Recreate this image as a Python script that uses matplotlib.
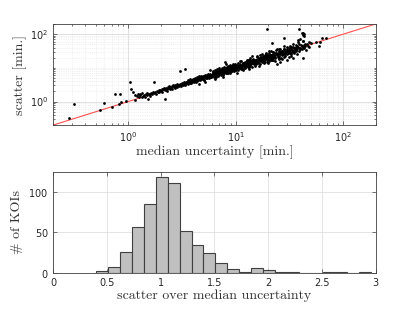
import numpy as np
import matplotlib
matplotlib.use("Agg")
import matplotlib.pyplot as plt
from matplotlib.ticker import LogLocator, FixedLocator, NullFormatter

# median timing uncertainty per KOI [min.]
median_unc = [
    0.28, 0.31, 0.55, 0.60, 0.71, 0.76, 0.82, 0.84, 0.85, 0.95,
    1.03, 1.06, 1.10, 1.15, 1.16, 1.20, 1.22, 1.25, 1.28, 1.30, 1.33, 1.35, 1.38, 1.40, 1.42, 1.45, 1.48,
    1.50, 1.54, 1.55, 1.58, 1.60, 1.63, 1.66, 1.70, 1.74, 1.75, 1.78, 1.82, 1.85, 1.88, 1.92, 1.95, 1.98,
    2.02, 2.05, 2.08, 2.12, 2.15, 2.20, 2.22, 2.25, 2.28, 2.30, 2.34, 2.38, 2.40, 2.43, 2.47, 2.50, 2.55,
    2.58, 2.62, 2.65, 2.70, 2.74, 2.78, 2.82, 2.86, 2.90, 2.95, 3.00, 3.06, 3.05, 3.10, 3.15, 3.20, 3.25,
    3.30, 3.36, 3.35, 3.40, 3.45, 3.50,
    3.55, 3.60, 3.62, 3.65, 3.70, 3.72, 3.75, 3.80, 3.83, 3.86, 3.90, 3.93, 3.96, 4.00, 4.04, 4.08, 4.12,
    4.15, 4.20, 4.24, 4.28, 4.32, 4.36, 4.40, 4.45, 4.50, 4.55, 4.60, 4.62, 4.66, 4.70, 4.75, 4.80, 4.85,
    4.90, 4.95, 5.00, 5.05, 5.10, 5.15, 5.20, 5.25, 5.30, 5.35, 5.40, 5.45, 5.50, 5.55, 5.60, 5.65, 5.70,
    5.75, 5.80, 5.85, 5.90, 5.95,
    6.00, 6.05, 6.10, 6.15, 6.20, 6.25, 6.30, 6.35, 6.40, 6.45, 6.50, 6.55, 6.60, 6.65, 6.70, 6.75, 6.80,
    6.85, 6.90, 6.95, 7.00, 7.05, 7.10, 7.15, 7.20, 7.25, 7.30, 7.35, 7.40, 7.45, 7.50, 7.55, 7.60, 7.65,
    7.70, 7.75, 7.80, 7.85, 7.90, 7.95, 8.00, 8.05, 8.10, 8.15, 8.20, 8.25, 8.30, 8.35, 8.40, 8.45, 8.50,
    8.55, 8.60, 8.65, 8.70, 8.75, 8.80, 8.85, 8.90, 8.95, 9.00, 9.05, 9.10, 9.15, 9.20, 9.25, 9.30, 9.35,
    9.40, 9.45, 9.50, 9.55, 9.60, 9.65, 9.70, 9.75, 9.80, 9.85, 9.90, 9.95,
    10.0, 10.1, 10.2, 10.3, 10.4, 10.5, 10.6, 10.7, 10.8, 10.9, 11.0, 11.1, 11.2, 11.3, 11.4, 11.5, 11.6,
    11.7, 11.8, 11.9, 12.0, 12.1, 12.2, 12.3, 12.4, 12.5, 12.6, 12.7, 12.8, 12.9, 13.0, 13.1, 13.2, 13.3,
    13.4, 13.5, 13.6, 13.7, 13.8, 13.9, 14.0, 14.1, 14.2, 14.3, 14.4, 14.5, 14.6, 14.7, 14.8, 14.9,
    15.0, 15.15, 15.3, 15.45, 15.6, 15.75, 15.9, 16.05, 16.2, 16.35, 16.5, 16.65, 16.8, 16.95, 17.1,
    17.25, 17.4, 17.55, 17.7, 17.85, 18.0, 18.15, 18.3, 18.45, 18.6,
    18.75, 18.9, 19.05, 19.2, 19.35, 19.5, 19.65, 19.8, 19.95, 20.1, 20.25, 20.4, 20.55, 20.7, 20.85,
    21.0, 21.15, 21.3, 21.45, 21.6, 21.75, 21.9, 22.05, 22.2, 22.35,
    8.1, 8.6, 9.1, 9.6, 10.15, 10.65, 11.15, 11.65, 12.15, 12.65, 13.15, 13.65, 14.15, 14.65, 15.2,
    15.7, 16.2, 16.7, 17.2, 17.7, 18.2, 18.7, 19.2, 19.7, 20.2,
    20.7, 21.2, 21.7, 22.2, 22.7, 23.2, 23.7, 24.2, 24.7, 25.2, 25.7, 26.2, 26.7, 27.2, 27.7, 28.2,
    28.7, 29.2, 29.7, 30.2, 30.7, 31.2, 31.7, 32.2, 32.7,
    22.5, 23.0, 23.5, 24.0, 24.5, 25.0, 25.5, 26.0, 26.5, 27.0, 27.5, 28.0, 28.5, 29.0, 29.5, 30.0,
    30.5, 31.0, 31.5, 32.0, 32.5, 33.0, 33.5, 34.0, 34.5,
    35.0, 35.5, 36.0, 36.5, 37.0, 37.5, 38.0, 38.5, 39.0, 39.5, 40.0, 40.5, 41.0, 41.5, 42.0, 42.5,
    43.0, 43.5, 44.0, 44.5, 45.0, 46.0, 47.0, 48.0, 50.0,
    12.3, 13.3, 14.3, 15.3, 16.3, 17.3, 18.3, 19.3, 20.3, 21.3, 22.3, 23.3, 24.3, 25.3, 26.3, 27.3,
    28.3, 29.3, 30.3, 31.3, 32.3, 33.3, 34.3, 35.3, 36.3,
    4.1, 4.35, 4.6, 4.85, 5.1, 5.35, 5.6, 5.85, 6.1, 6.35, 6.6, 6.85, 7.1, 7.35, 7.6, 7.85, 8.1, 8.35,
    8.6, 8.85,
    5.2, 5.8, 6.4, 7.0, 7.6, 8.2, 8.8, 9.4, 10.2, 11.0, 11.8, 12.6, 13.4, 14.2, 15.0, 15.8, 16.6,
    17.4, 18.2, 19.0, 19.8, 20.6, 21.4, 22.2, 23.0, 24.0, 25.0, 26.0, 27.0, 28.0, 29.0, 30.0, 31.0,
    32.0, 33.0, 34.0, 35.0, 36.0, 37.0, 38.0,
    19.5, 21.6, 28.2, 39.0, 41.0, 42.0, 42.5, 43.0, 43.5, 42.0, 34.0, 42.0, 55.7, 61.0, 60.0, 63.5,
    69.0, 48.0, 24.0, 30.0, 26.0, 38.0, 40.0, 33.0,
]

# measured transit-time scatter per KOI [min.]
scatter = [
    0.33, 0.87, 0.57, 0.90, 0.68, 1.69, 0.84, 1.66, 1.00, 1.05,
    3.8, 2.3, 1.98, 1.12, 1.55, 1.45, 1.70, 1.38, 1.52, 1.62, 1.40, 1.75, 1.48, 1.58, 1.36, 1.66, 1.55,
    1.80, 1.18, 1.62, 1.72, 1.50, 1.85, 1.68, 1.95, 3.76, 1.78, 1.90, 1.72, 2.05, 1.95, 2.15, 1.88, 2.25,
    2.10, 2.40, 1.95, 2.30, 2.55, 1.20, 2.20, 2.60, 2.35, 2.05, 2.70, 2.45, 2.90, 2.30, 2.65, 2.50, 2.85,
    2.35, 3.05, 2.75, 2.60, 3.00, 2.80, 3.30, 2.70, 3.10, 2.95, 3.40, 8.1, 3.20, 2.90, 3.50, 3.25, 3.05,
    3.70, 9.1, 3.40, 3.15, 3.90, 3.55,
    3.90, 4.40, 3.30, 4.10, 3.80, 4.70, 3.60, 4.20, 4.00, 3.50, 4.50, 4.10, 3.85, 4.80, 4.30, 3.70, 4.60,
    4.20, 5.10, 4.40, 3.90, 4.80, 4.50, 5.40, 4.30, 4.90, 4.60, 3.30, 5.20, 4.80, 4.30, 5.60, 5.00, 4.60,
    5.40, 5.90, 5.10, 4.50, 5.60, 5.30, 6.20, 4.90, 5.70, 5.40, 6.00, 5.10, 5.80, 6.50, 5.50, 5.00, 6.10,
    5.80, 6.60, 5.40, 6.30, 5.90,
    6.3, 5.6, 7.2, 6.0, 7.7, 5.5, 6.9, 6.5, 8.6, 6.1, 7.5, 5.4, 7.1, 8.0, 6.5, 9.4, 6.8,
    6.2, 7.7, 8.9, 7.3, 6.4, 8.2, 7.0, 8.8, 6.2, 7.8, 7.5, 9.6, 7.0, 8.4, 6.1, 8.1, 9.1,
    7.5, 10.5, 7.8, 7.0, 15.0, 8.8, 10.0, 7.4, 9.5, 8.0, 10.2, 7.1, 9.1, 8.6, 11.0, 8.0, 9.8,
    7.0, 9.3, 10.5, 8.4, 12.0, 8.8, 8.0, 10.0, 11.2, 9.4, 8.3, 10.6, 9.0, 11.3, 8.0, 10.2, 9.6,
    12.4, 9.0, 10.9, 7.8, 10.4, 11.6, 9.4, 13.4, 9.8, 8.9, 11.1, 12.4,
    10.5, 8.9, 12.4, 10.0, 11.6, 8.4, 13.8, 10.8, 10.0, 12.6, 11.9, 9.4, 16.2, 11.2, 12.5, 10.4, 13.9,
    12.1, 9.0, 13.6, 11.4, 15.2, 12.9, 10.7, 12.4, 13.1, 11.1, 15.5, 12.4, 14.4, 10.4, 17.0, 13.3, 12.4,
    15.5, 14.6, 11.6, 19.9, 13.7, 15.3, 12.6, 16.9, 14.6, 10.9, 16.4, 13.8, 18.4, 15.6, 12.9, 14.9,
    15.2, 14.1, 17.7, 16.7, 13.3, 22.8, 15.7, 17.7, 14.6, 19.6, 17.0, 12.7, 19.2, 16.1, 21.5,
    18.3, 15.1, 17.6, 18.6, 15.7, 22.0, 17.6, 20.5, 14.8, 24.2,
    21.4, 18.0, 24.0, 20.4, 16.8, 19.5, 20.6, 17.4, 24.3, 19.5, 22.7, 16.3, 26.7, 20.9, 19.4,
    24.4, 22.8, 18.1, 31.1, 21.4, 23.9, 19.7, 26.5, 22.9, 17.0,
    7.7, 10.8, 9.6, 8.4, 10.2, 11.2, 9.8, 14.2, 11.8, 14.2, 10.5, 17.7, 14.3, 13.6, 17.6,
    17.0, 13.8, 24.2, 17.0, 19.5, 16.4, 22.4, 19.8, 15.0, 23.0,
    20.1, 23.7, 17.4, 28.9, 22.9, 21.6, 27.5, 26.1, 21.0, 36.5, 25.4, 28.8, 24.0, 32.6, 28.5, 21.4,
    32.7, 27.7, 37.4, 32.0, 26.7, 31.2, 33.3, 28.3, 39.9,
    24.3, 19.6, 34.1, 23.8, 27.0, 22.5, 30.6, 26.8, 20.1, 30.8, 26.1, 35.3, 30.2, 25.2, 29.5, 31.5,
    26.8, 37.8, 30.6, 35.8, 26.0, 42.9, 33.8, 31.6, 40.0,
    30.5, 35.5, 37.8, 32.1, 45.1, 36.4, 42.6, 30.8, 50.7, 39.9, 37.2, 47.0, 44.3, 35.3, 60.9, 42.1,
    47.3, 39.2, 52.8, 45.8, 34.2, 52.4, 44.7, 60.5, 53.0,
    9.8, 17.3, 14.4, 14.2, 18.9, 18.7, 15.6, 28.0, 20.1, 23.4, 20.1, 28.0, 25.0, 19.2, 30.0, 25.9,
    35.7, 31.1, 26.4, 31.3, 33.9, 29.3, 41.8, 34.2, 40.7,
    4.5, 4.0, 5.7, 4.9, 4.4, 6.3, 5.8, 5.5, 8.1, 6.2, 7.4, 5.8, 7.6, 8.7, 7.3, 8.0, 7.2, 10.6,
    9.0, 8.1,
    3.7, 8.7, 4.8, 9.8, 5.2, 12.7, 6.9, 12.7, 7.1, 16.5, 8.9, 17.6, 9.1, 22.0, 11.7, 21.3, 11.6,
    26.1, 13.7, 26.6, 13.5, 31.9, 16.7, 30.0, 16.1, 36.0, 18.8, 36.4, 18.4, 43.4, 22.6, 40.5, 21.7,
    44.8, 22.4, 52.7, 27.3, 48.6, 25.9, 57.0,
    147.0, 56.0, 76.0, 143.0, 105.0, 95.0, 110.0, 88.0, 100.0, 64.0, 19.8, 19.0, 60.0, 58.0, 46.0, 79.0,
    79.0, 43.0, 13.0, 17.0, 15.0, 65.0, 70.0, 41.0,
]

# histogram of scatter / median uncertainty
bin_start = 0.40
bin_width = 0.111
koi_counts = [2, 7, 25, 57, 85, 118, 111, 52, 34, 24, 12, 5, 1, 6, 3, 1, 1, 0, 0, 1, 1, 0, 1]

serif = "cmr10"
tick_color = "#262626"
plt.rcParams["axes.formatter.use_mathtext"] = True

fig = plt.figure(figsize=(4.15, 3.12), dpi=100)

# --- top panel: scatter vs median uncertainty ---
ax1 = fig.add_axes([0.128, 0.599, 0.777, 0.324])
ax1.set_xscale("log")
ax1.set_yscale("log")
ax1.set_xlim(0.2, 200)
ax1.set_ylim(0.2, 200)
ax1.grid(True, which="major", color="#dcdcdc", linewidth=0.6, linestyle="-")
ax1.grid(True, which="minor", color="#e4e4e4", linewidth=0.5, linestyle=":")
ax1.set_axisbelow(True)
ax1.plot([0.2, 200], [0.2, 200], color="#ff5050", linewidth=0.8, zorder=2)
ax1.scatter(median_unc, scatter, s=4, color="black", linewidths=0, zorder=3)
ax1.xaxis.set_major_locator(FixedLocator([1, 10, 100]))
ax1.yaxis.set_major_locator(FixedLocator([1, 100]))
ax1.xaxis.set_minor_locator(LogLocator(base=10, subs=np.arange(2, 10)))
ax1.yaxis.set_minor_locator(FixedLocator(
    [v * 10.0 ** d for d in (-1, 0, 1, 2) for v in range(2, 10)] + [10]))
ax1.xaxis.set_minor_formatter(NullFormatter())
ax1.yaxis.set_minor_formatter(NullFormatter())
ax1.set_xticklabels([r"$10^0$", r"$10^1$", r"$10^2$"])
ax1.set_yticklabels([r"$10^0$", r"$10^2$"])
ax1.set_xlabel("median uncertainty [min.]", family=serif, fontsize=10, color="#333333", labelpad=1)
ax1.set_ylabel("scatter [min.]", family=serif, fontsize=10, color="#333333", labelpad=2)

# --- bottom panel: histogram ---
ax2 = fig.add_axes([0.128, 0.126, 0.777, 0.324])
edges = bin_start + bin_width * np.arange(len(koi_counts) + 1)
ax2.bar(edges[:-1], koi_counts, width=bin_width, align="edge",
        color="#c0c0c0", edgecolor="#404040", linewidth=0.8, zorder=3)
ax2.set_xlim(0, 3)
ax2.set_ylim(0, 125)
ax2.set_xticks([0, 0.5, 1, 1.5, 2, 2.5, 3])
ax2.set_xticklabels(["0", "0.5", "1", "1.5", "2", "2.5", "3"])
ax2.set_yticks([0, 50, 100])
ax2.grid(True, color="#e0e0e0", linewidth=0.6)
ax2.set_axisbelow(True)
ax2.set_xlabel("scatter over median uncertainty", family=serif, fontsize=10, color="#333333", labelpad=1)
ax2.set_ylabel("# of KOIs", family=serif, fontsize=10, color="#333333", labelpad=4)

for ax in (ax1, ax2):
    for sp in ax.spines.values():
        sp.set_color("#404040")
        sp.set_linewidth(0.6)
    ax.tick_params(which="both", direction="in", top=True, right=True,
                   colors="#404040", labelcolor=tick_color, labelsize=7, width=0.5)
    ax.tick_params(which="major", length=3)
    ax.tick_params(which="minor", length=1.5)

fig.savefig("out.png", dpi=100)
